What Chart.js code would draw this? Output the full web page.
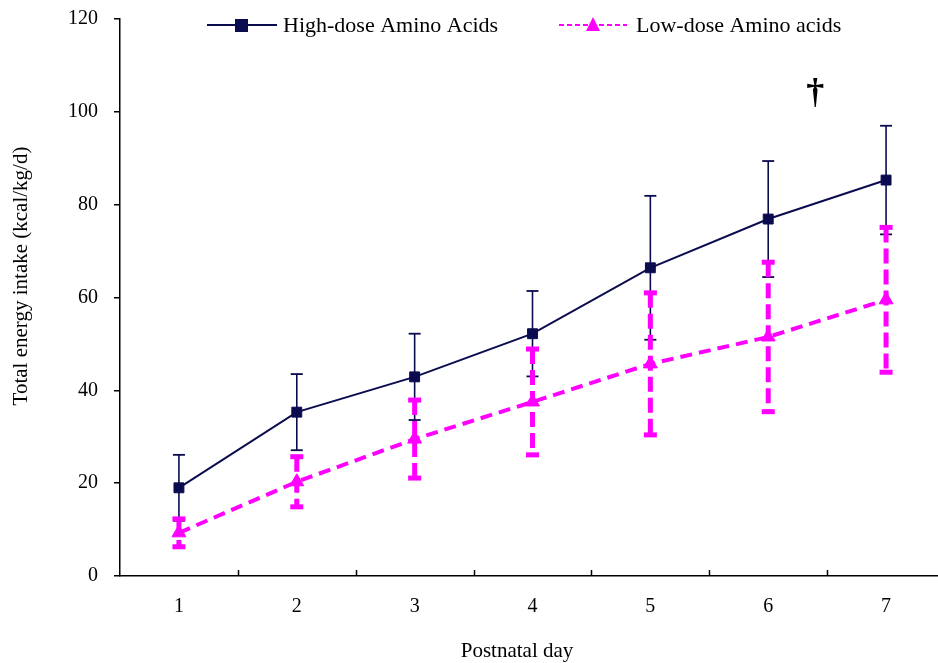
<!DOCTYPE html>
<html>
<head>
<meta charset="utf-8">
<title>Total energy intake by postnatal day</title>
<script src="https://cdn.jsdelivr.net/npm/chart.js"></script>
<style>
    body { margin: 0; padding: 0; background: #fff; overflow: hidden; }
    /* the original figure is cropped: its x axis runs a few pixels past the right edge */
    #chartBox { width: 938px; height: 663px; overflow: hidden; }
</style>
</head>
<body>
<div id="chartBox"><canvas id="energyChart" width="945" height="663"></canvas></div>
<script>
    // data (mean and SD per postnatal day)
    var days = ['1', '2', '3', '4', '5', '6', '7'];
    var highDose = [19.0, 35.3, 42.9, 52.2, 66.4, 76.9, 85.3];
    var highDoseSD = [7.1, 8.2, 9.3, 9.2, 15.5, 12.5, 11.7];
    var lowDose = [9.3, 20.3, 29.5, 37.5, 45.7, 51.5, 59.5];
    var lowDoseSD = [3.0, 5.4, 8.4, 11.4, 15.3, 16.1, 15.6];
    var yTicks = [0, 20, 40, 60, 80, 100, 120];
    var dagger = { day: 5.4, value: 104 };   // significance mark between day 6 and 7

    var navy = '#0b0b4f';
    var magenta = '#ff00ff';
    var serif = "'Liberation Serif', 'Times New Roman', serif";

    function drawErrorBars(chart, means, sds, color, width, dash, capW, capH) {
        var ctx = chart.ctx, xs = chart.scales.x, ys = chart.scales.y;
        ctx.save();
        ctx.strokeStyle = color;
        ctx.fillStyle = color;
        ctx.lineWidth = width;
        for (var i = 0; i < means.length; i++) {
            var px = xs.getPixelForValue(i);
            var top = ys.getPixelForValue(means[i] + sds[i]);
            var bot = ys.getPixelForValue(means[i] - sds[i]);
            ctx.setLineDash(dash);
            ctx.beginPath();
            ctx.moveTo(px, top);
            ctx.lineTo(px, bot);
            ctx.stroke();
            ctx.setLineDash([]);
            ctx.fillRect(px - capW / 2, top - capH / 2, capW, capH);
            ctx.fillRect(px - capW / 2, bot - capH / 2, capW, capH);
        }
        ctx.restore();
    }

    var errorBars = {
        id: 'errorBars',
        beforeDatasetsDraw: function(chart) {
            drawErrorBars(chart, highDose, highDoseSD, navy, 1.6, [], 12, 1.8);
            drawErrorBars(chart, lowDose, lowDoseSD, magenta, 5, [15, 6], 13, 5);

            // inward ticks on the x axis, between the days
            var ctx = chart.ctx, xs = chart.scales.x, bottom = chart.chartArea.bottom;
            ctx.save();
            ctx.strokeStyle = '#000';
            ctx.lineWidth = 1.5;
            for (var i = 1; i < days.length; i++) {
                var tx = Math.round((xs.getPixelForValue(i - 1) + xs.getPixelForValue(i)) / 2) + 0.5;
                ctx.beginPath();
                ctx.moveTo(tx, bottom);
                ctx.lineTo(tx, bottom - 6);
                ctx.stroke();
            }
            ctx.restore();
        },
        afterDraw: function(chart) {
            var ctx = chart.ctx, xs = chart.scales.x, ys = chart.scales.y;
            ctx.save();
            // dagger
            ctx.fillStyle = '#000';
            ctx.font = 'bold 36px ' + serif;
            ctx.textAlign = 'center';
            ctx.textBaseline = 'middle';
            ctx.fillText('\u2020', xs.getPixelForValue(dagger.day), ys.getPixelForValue(dagger.value));

            // axis titles
            ctx.font = '21px ' + serif;
            ctx.fillText('Postnatal day', 517, 651);
            ctx.translate(21, 276);
            ctx.rotate(-Math.PI / 2);
            ctx.fillText('Total energy intake (kcal/kg/d)', 0, 0);
            ctx.restore();

            // legend
            ctx.save();
            ctx.font = '22px ' + serif;
            ctx.textAlign = 'left';
            ctx.textBaseline = 'middle';
            var ly = 25;
            ctx.strokeStyle = navy;
            ctx.lineWidth = 2;
            ctx.beginPath();
            ctx.moveTo(207, ly);
            ctx.lineTo(277, ly);
            ctx.stroke();
            ctx.fillStyle = navy;
            ctx.fillRect(235, ly - 6, 13, 13);
            ctx.fillStyle = '#000';
            ctx.fillText('High-dose Amino Acids', 283, ly + 1);

            ctx.strokeStyle = magenta;
            ctx.lineWidth = 2;
            ctx.setLineDash([5, 3]);
            ctx.beginPath();
            ctx.moveTo(559, ly);
            ctx.lineTo(627, ly);
            ctx.stroke();
            ctx.setLineDash([]);
            ctx.fillStyle = magenta;
            ctx.beginPath();
            ctx.moveTo(593, ly - 8);
            ctx.lineTo(600, ly + 6);
            ctx.lineTo(586, ly + 6);
            ctx.closePath();
            ctx.fill();
            ctx.fillStyle = '#000';
            ctx.fillText('Low-dose Amino acids', 636, ly + 1);
            ctx.restore();
        }
    };

    var config = {
        type: 'line',
        data: {
            labels: days,
            datasets: [
                {
                    label: 'High-dose Amino Acids',
                    data: highDose,
                    borderColor: navy,
                    backgroundColor: navy,
                    borderWidth: 2,
                    pointStyle: 'rect',
                    pointRadius: 7,
                    pointBorderWidth: 1,
                    tension: 0
                },
                {
                    label: 'Low-dose Amino acids',
                    data: lowDose,
                    borderColor: magenta,
                    backgroundColor: magenta,
                    borderWidth: 4,
                    borderDash: [12, 7],
                    pointStyle: 'triangle',
                    pointRadius: 8,
                    pointBorderWidth: 1,
                    tension: 0
                }
            ]
        },
        options: {
            responsive: false,
            animation: false,
            layout: { autoPadding: false, padding: { top: 19, right: 0, left: 0, bottom: 0 } },
            plugins: {
                legend: { display: false },
                tooltip: { enabled: false }
            },
            scales: {
                x: {
                    type: 'category',
                    offset: true,
                    grid: { display: false, drawTicks: false },
                    border: { color: '#000', width: 1.5 },
                    ticks: {
                        color: '#000',
                        font: { family: serif, size: 20 },
                        padding: 19,
                        maxRotation: 0
                    },
                    afterFit: function(s) {
                        s.height = 87;
                        s.paddingLeft = 0;
                        s.paddingRight = 0;
                    }
                },
                y: {
                    min: 0,
                    max: 120,
                    afterBuildTicks: function(s) { s.ticks = yTicks.map(function(v) { return { value: v }; }); },
                    grid: { drawOnChartArea: false, drawTicks: true, tickLength: 6, color: '#000', lineWidth: 1.5 },
                    border: { color: '#000', width: 1.5 },
                    ticks: {
                        color: '#000',
                        font: { family: serif, size: 20 },
                        padding: 16
                    },
                    afterFit: function(s) {
                        s.width = 120;
                        s.paddingTop = 0;
                        s.paddingBottom = 0;
                    }
                }
            }
        },
        plugins: [errorBars]
    };

    var myChart = new Chart(document.getElementById('energyChart'), config);
</script>
</body>
</html>
